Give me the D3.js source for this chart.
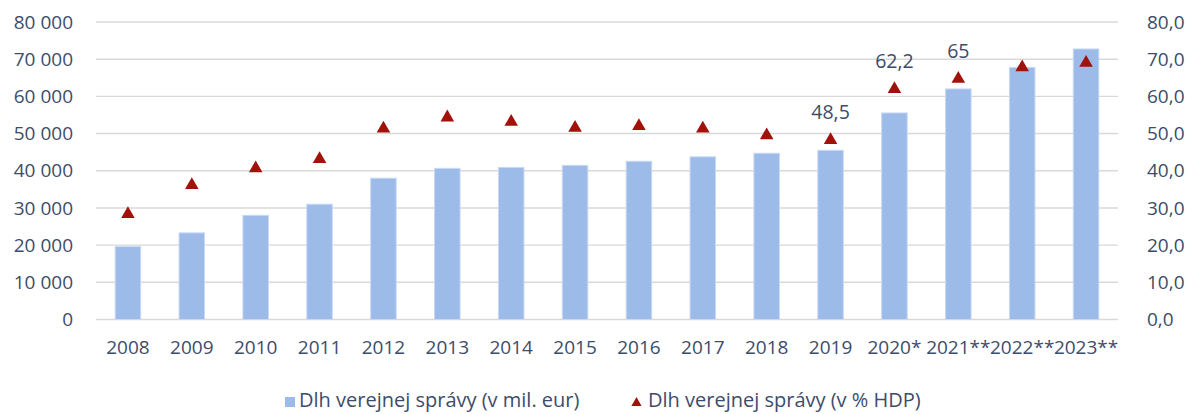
<!DOCTYPE html>
<html>
<head>
<meta charset="utf-8">
<script src="https://cdn.jsdelivr.net/npm/d3@7"></script>
<style>
  html, body { margin: 0; padding: 0; background: #fff; }
  svg text { font-family: "Open Sans", "Noto Sans", sans-serif; fill: #3d4c6a; }
</style>
</head>
<body>
<div id="chart"></div>
<script>
// roky
const years = ["2008", "2009", "2010", "2011", "2012", "2013", "2014", "2015",
  "2016", "2017", "2018", "2019", "2020*", "2021**", "2022**", "2023**"];
// dlh v mil. eur
const debtEur = [19600, 23300, 28000, 31000, 38000, 40650, 40900, 41450,
  42550, 43750, 44700, 45500, 55550, 62000, 67800, 72750];
// dlh v % HDP
const debtPct = [28.6, 36.4, 40.9, 43.4, 51.6, 54.6, 53.4, 51.8,
  52.3, 51.6, 49.8, 48.5, 62.2, 65.0, 68.1, 69.3];
// ktore body maju popis
const labelled = { "2019": "48,5", "2020*": "62,2", "2021**": "65" };
const leftTicks = [0, 10000, 20000, 30000, 40000, 50000, 60000, 70000, 80000];
const rightTicks = [0, 10, 20, 30, 40, 50, 60, 70, 80];
const legendNames = ["Dlh verejnej správy (v mil. eur)", "Dlh verejnej správy (v % HDP)"];

const width = 1187, height = 414;
const margin = { top: 22, right: 69, bottom: 94.5, left: 96 };
const barColor = "#9dbbe9", triColor = "#a0120a";

const svg = d3.select("#chart").append("svg")
  .attr("width", width)
  .attr("height", height);

const x = d3.scaleBand()
  .domain(years)
  .range([margin.left, width - margin.right])
  .paddingInner(0.6)
  .paddingOuter(0.3);

const yLeft = d3.scaleLinear().domain([0, 80000]).range([height - margin.bottom, margin.top]);
const yRight = d3.scaleLinear().domain([0, 80]).range([height - margin.bottom, margin.top]);

const fmtLeft = v => d3.format(",")(v).replace(/,/g, " ");
const fmtRight = v => d3.format(".1f")(v).replace(".", ",");

// mriezka
svg.append("g")
  .selectAll("line")
  .data(leftTicks)
  .join("line")
  .attr("x1", margin.left)
  .attr("x2", width - margin.right)
  .attr("y1", d => yLeft(d))
  .attr("y2", d => yLeft(d))
  .attr("stroke", "#d9d9d9")
  .attr("stroke-width", 1.4);

// osi
const axisL = svg.append("g")
  .attr("transform", `translate(${margin.left},0)`)
  .call(d3.axisLeft(yLeft).tickValues(leftTicks).tickFormat(fmtLeft).tickSize(0).tickPadding(23));
const axisR = svg.append("g")
  .attr("transform", `translate(${width - margin.right},0)`)
  .call(d3.axisRight(yRight).tickValues(rightTicks).tickFormat(fmtRight).tickSize(0).tickPadding(29));
const axisX = svg.append("g")
  .attr("transform", `translate(0,${height - margin.bottom})`)
  .call(d3.axisBottom(x).tickSize(0).tickPadding(21));

[axisL, axisR, axisX].forEach(a => {
  a.select(".domain").remove();
  a.selectAll("text")
    .attr("font-size", 19)
    .attr("font-family", null)
    .attr("fill", null);
});

// stlpce
svg.append("g")
  .selectAll("rect")
  .data(years)
  .join("rect")
  .attr("x", d => x(d))
  .attr("width", x.bandwidth())
  .attr("y", (d, i) => yLeft(debtEur[i]))
  .attr("height", (d, i) => yLeft(0) - yLeft(debtEur[i]))
  .attr("fill", barColor)
  .attr("stroke", "#c9d9f4")
  .attr("stroke-width", 1);

// trojuholniky
const tri = d3.symbol().type(d3.symbolTriangle).size(80);
svg.append("g")
  .selectAll("path")
  .data(years)
  .join("path")
  .attr("d", tri)
  .attr("transform", (d, i) => `translate(${x(d) + x.bandwidth() / 2},${yRight(debtPct[i]) + 1})`)
  .attr("fill", triColor);

// popisy
svg.append("g")
  .selectAll("text")
  .data(years.filter(d => labelled[d]))
  .join("text")
  .attr("x", d => x(d) + x.bandwidth() / 2)
  .attr("y", d => yRight(debtPct[years.indexOf(d)]) - 25)
  .attr("text-anchor", "middle")
  .attr("dominant-baseline", "middle")
  .attr("font-size", 19.5)
  .text(d => labelled[d]);

// legenda
const legend = svg.append("g");
legend.append("rect")
  .attr("x", 285).attr("y", 397)
  .attr("width", 10).attr("height", 10)
  .attr("fill", barColor);
legend.append("text")
  .attr("x", 299).attr("y", 402)
  .attr("dominant-baseline", "middle")
  .attr("font-size", 20)
  .text(legendNames[0]);
legend.append("path")
  .attr("d", d3.symbol().type(d3.symbolTriangle).size(45))
  .attr("transform", "translate(636.5,403)")
  .attr("fill", triColor);
legend.append("text")
  .attr("x", 648).attr("y", 402)
  .attr("dominant-baseline", "middle")
  .attr("font-size", 20)
  .text(legendNames[1]);
</script>
</body>
</html>
